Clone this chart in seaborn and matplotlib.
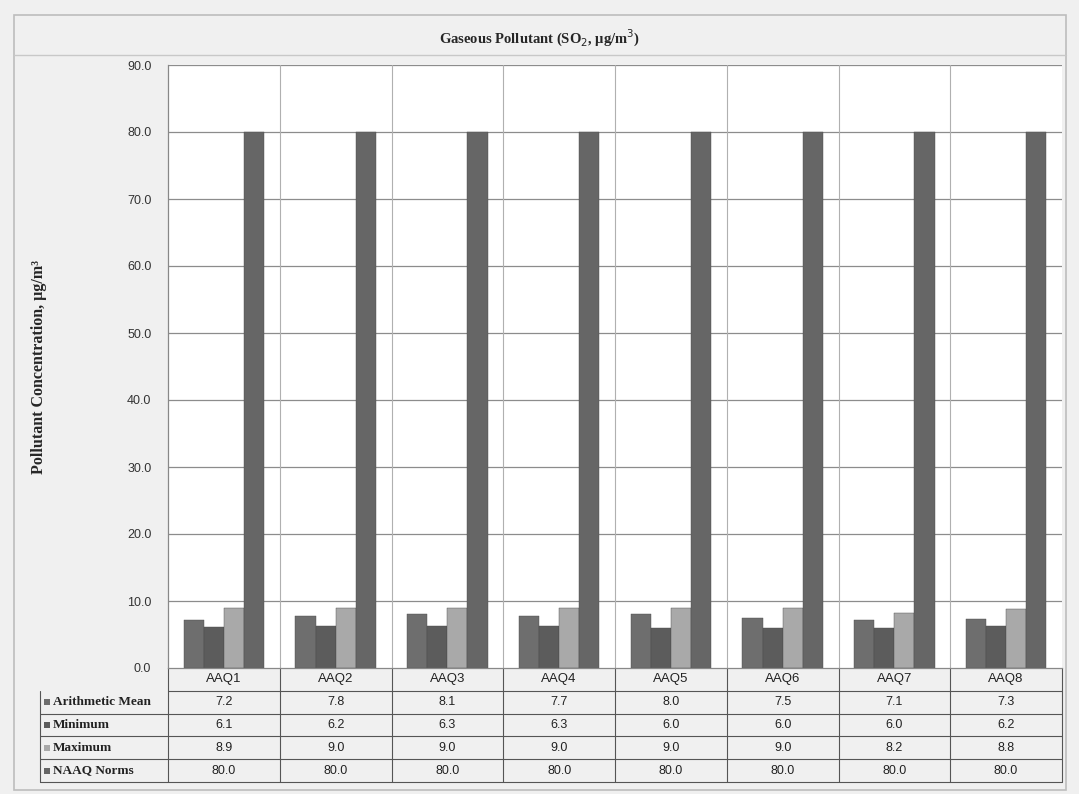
import matplotlib
matplotlib.use("Agg")
import matplotlib.pyplot as plt
import seaborn as sns
import pandas as pd
import numpy as np
from matplotlib.patches import Rectangle
from matplotlib.lines import Line2D

stations = ["AAQ1", "AAQ2", "AAQ3", "AAQ4", "AAQ5", "AAQ6", "AAQ7", "AAQ8"]
arith_mean = [7.2, 7.8, 8.1, 7.7, 8.0, 7.5, 7.1, 7.3]
minimum = [6.1, 6.2, 6.3, 6.3, 6.0, 6.0, 6.0, 6.2]
maximum = [8.9, 9.0, 9.0, 9.0, 9.0, 9.0, 8.2, 8.8]
naaq_norms = [80.0, 80.0, 80.0, 80.0, 80.0, 80.0, 80.0, 80.0]
series_names = ["Arithmetic Mean", "Minimum", "Maximum", "NAAQ Norms"]
colors = ["#6e6e6e", "#5c5c5c", "#a9a9a9", "#666666"]

series_values = [arith_mean, minimum, maximum, naaq_norms]
df = pd.DataFrame({
    "station": np.repeat([stations], 4, axis=0).ravel(),
    "series": np.repeat(series_names, len(stations)),
    "value": np.concatenate(series_values),
})

sns.set_theme(style="white")
plt.rcParams["font.family"] = ["Liberation Serif", "DejaVu Serif"]

fig = plt.figure(figsize=(10.79, 7.94), dpi=100)
fig.patch.set_facecolor("#f0f0f0")
W, H = 1079, 794
ax = fig.add_axes([168 / W, 1 - 668 / H, 894 / W, 603 / H])
ax.set_facecolor("white")

sns.barplot(data=df, x="station", y="value", hue="series", order=stations,
            hue_order=series_names, palette=colors, width=0.72, ax=ax,
            legend=False, edgecolor="#4a4a4a", linewidth=0.3, saturation=1)

ax.set_ylim(0, 90)
ax.set_yticks(np.arange(0, 91, 10))
ax.set_yticklabels([f"{v:.1f}" for v in np.arange(0, 91, 10)], fontsize=9,
                   family=["Liberation Sans"], color="#333333")
ax.tick_params(axis="y", length=0, pad=12)
ax.set_xticks([])
ax.set_xlabel("")
ax.set_xlim(-0.5, 7.5)
ax.set_ylabel("Pollutant Concentration, µg/m³", fontsize=11.5, fontweight="bold")
ax.yaxis.set_label_coords(-0.135, 0.5)
for y in range(10, 91, 10):
    ax.axhline(y, color="#8c8c8c", lw=0.9, zorder=0)
for x in np.arange(0.5, 7.5, 1):
    ax.plot([x, x], [0, 90], color="#b0b0b0", lw=0.8, zorder=0)
for s in ax.spines.values():
    s.set_color("#888888")
    s.set_linewidth(0.9)
ax.spines["top"].set_visible(False)
ax.spines["right"].set_visible(False)

fig.text(0.5, 1 - 38 / H, "Gaseous Pollutant (SO$_2$, µg/m$^3$)", ha="center",
         va="center", fontsize=10.5, fontweight="bold")

# data table drawn manually in axes coordinates
rw = 128 / 894
th = 114 / 603
rh = th / 5
tkw = dict(transform=ax.transAxes, clip_on=False)
lc = "#555555"
ax.add_line(Line2D([0, 1], [-rh, -rh], color=lc, lw=0.8, **tkw))
for k in range(2, 6):
    ax.add_line(Line2D([-rw, 1], [-k * rh, -k * rh], color=lc, lw=0.8, **tkw))
ax.add_line(Line2D([1, 1], [0, -th], color=lc, lw=0.8, **tkw))
ax.add_line(Line2D([-rw, -rw], [-rh, -th], color=lc, lw=0.8, **tkw))
for j in range(0, 8):
    ax.add_line(Line2D([j / 8, j / 8], [0, -th], color=lc, lw=0.8, **tkw))
for j, st in enumerate(stations):
    ax.text((j + 0.5) / 8, -rh / 2, st, ha="center", va="center", fontsize=9.5,
            family=["Liberation Sans"], color="#222222", **tkw)
for i, (name, vals) in enumerate(zip(series_names, series_values)):
    yc = -(i + 1.5) * rh
    ax.add_patch(Rectangle((-rw + 0.004, yc - 0.005), 0.007, 0.01,
                           facecolor=colors[i], edgecolor="none", **tkw))
    ax.text(-rw + 0.014, yc, name, ha="left", va="center", fontsize=9.5,
            fontweight="bold", family=["Liberation Serif"], color="#222222",
            **tkw)
    for j, v in enumerate(vals):
        ax.text((j + 0.5) / 8, yc, f"{v:.1f}", ha="center", va="center",
                fontsize=9, family=["Liberation Sans"], color="#222222", **tkw)

# outer frame
fig.add_artist(Rectangle((14 / W, 1 - 790 / H), 1052 / W, 775 / H,
                         transform=fig.transFigure, fill=False,
                         edgecolor="#bdbdbd", lw=1.2))
fig.add_artist(Line2D([14 / W, 1066 / W], [1 - 55 / H, 1 - 55 / H],
                      transform=fig.transFigure, color="#c8c8c8", lw=1))

fig.savefig("out.png", dpi=100, facecolor=fig.get_facecolor())
